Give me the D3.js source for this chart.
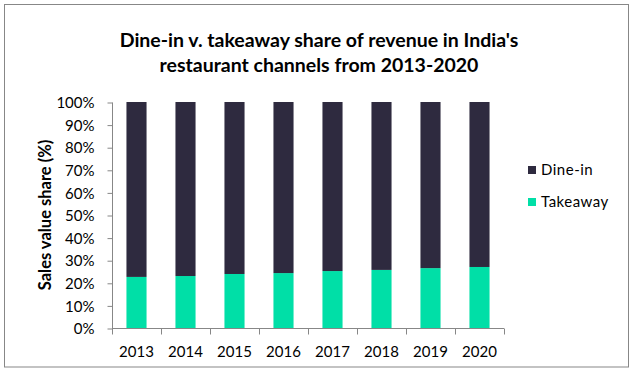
<!DOCTYPE html>
<html>
<head>
<meta charset="utf-8">
<script src="https://cdn.jsdelivr.net/npm/d3@7"></script>
<style>
  body { margin: 0; background: #fff; }
  text { font-family: Lato, "Open Sans", sans-serif; fill: #000; }
</style>
</head>
<body>
<svg width="634" height="373"></svg>
<script>
// chart data
var years = ["2013", "2014", "2015", "2016", "2017", "2018", "2019", "2020"];
var takeaway = [22.6, 23.0, 23.9, 24.3, 25.2, 25.7, 26.5, 27.0];
var dineIn = takeaway.map(function(v) { return 100 - v; });
var seriesNames = ["Dine-in", "Takeaway"];
var seriesColors = ["#2e2a3f", "#00dfa7"];
var yTicks = [0, 10, 20, 30, 40, 50, 60, 70, 80, 90, 100];
var titleLines = ["Dine-in v. takeaway share of revenue in India's", "restaurant channels from 2013-2020"];

var svg = d3.select("svg");

// outer frame
svg.append("rect")
  .attr("x", 4.5).attr("y", 4.5)
  .attr("width", 624).attr("height", 362.5)
  .attr("fill", "#fff")
  .attr("stroke", "#878787");

// title
svg.append("g").selectAll("text")
  .data(titleLines)
  .enter().append("text")
  .attr("x", 319)
  .attr("y", function(d, i) { return 47 + i * 25; })
  .attr("text-anchor", "middle")
  .style("font-size", "19.5px")
  .style("font-weight", "bold")
  .text(function(d) { return d; });

// plot area (not "top" - that one is window.top)
var plotL = 112, plotR = 504, plotT = 102, plotB = 328;

// bars 20px wide, centred in 49px categories
var x = d3.scaleBand().domain(years).range([plotL, plotR]).paddingInner(0.59).paddingOuter(0.295);
var xCat = d3.scaleBand().domain(years).range([plotL, plotR]);
var y = d3.scaleLinear().domain([0, 100]).range([plotB, plotT]);

// stacked data
var rows = years.map(function(yr, i) {
  return { year: yr, "Takeaway": takeaway[i], "Dine-in": dineIn[i] };
});
var stack = d3.stack().keys(["Takeaway", "Dine-in"]);
var layers = stack(rows);

var g = svg.append("g");
g.selectAll("g.layer")
  .data(layers)
  .enter().append("g")
  .attr("class", "layer")
  .attr("fill", function(d) { return seriesColors[seriesNames.indexOf(d.key)]; })
  .selectAll("rect")
  .data(function(d) { return d; })
  .enter().append("rect")
  .attr("x", function(d) { return x(d.data.year); })
  .attr("width", x.bandwidth())
  .attr("y", function(d) { return y(d[1]); })
  .attr("height", function(d) { return y(d[0]) - y(d[1]); });

// y axis
var yAxis = d3.axisLeft(y)
  .tickValues(yTicks)
  .tickSize(5)
  .tickPadding(13)
  .tickFormat(function(d) { return d + "%"; });
var yg = svg.append("g").attr("transform", "translate(" + (plotL + 0.5) + ",0.5)").call(yAxis);
yg.select(".domain").attr("stroke", "#878787").attr("d", "M0," + plotT + "V" + plotB);
yg.selectAll(".tick line").attr("stroke", "#878787");
yg.selectAll(".tick text").attr("fill", "#000").style("font-family", "Lato, sans-serif").style("font-size", "15px").attr("dy", "0.35em");

// x axis: ticks on category boundaries
var xg = svg.append("g").attr("transform", "translate(0," + (plotB + 0.5) + ")");
xg.append("line")
  .attr("x1", plotL).attr("x2", plotR)
  .attr("stroke", "#878787");
xg.selectAll("line.tk")
  .data(years.concat(["end"]))
  .enter().append("line")
  .attr("class", "tk")
  .attr("x1", function(d, i) { return Math.round(plotL + i * xCat.step()) + 0.5; })
  .attr("x2", function(d, i) { return Math.round(plotL + i * xCat.step()) + 0.5; })
  .attr("y1", 0).attr("y2", 6)
  .attr("stroke", "#878787");
xg.selectAll("text")
  .data(years)
  .enter().append("text")
  .attr("x", function(d) { return xCat(d) + xCat.bandwidth() / 2; })
  .attr("y", 28)
  .attr("text-anchor", "middle")
  .style("font-size", "15px")
  .text(function(d) { return d; });

// y axis title
svg.append("text")
  .attr("transform", "translate(51,215) rotate(-90)")
  .attr("text-anchor", "middle")
  .style("font-size", "16.5px")
  .style("font-weight", "bold")
  .text("Sales value share (%)");

// legend
var legend = svg.append("g").selectAll("g")
  .data(seriesNames)
  .enter().append("g")
  .attr("transform", function(d, i) { return "translate(528," + (166 + i * 32) + ")"; });
legend.append("rect")
  .attr("width", 8).attr("height", 8)
  .attr("fill", function(d, i) { return seriesColors[i]; });
legend.append("text")
  .attr("x", 13).attr("y", 9)
  .style("font-size", "15px")
  .style("letter-spacing", "0.5px")
  .text(function(d) { return d; });
</script>
</body>
</html>
